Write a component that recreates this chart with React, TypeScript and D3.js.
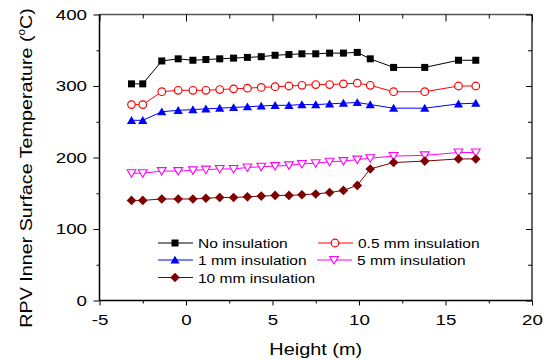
import React, { useEffect, useRef } from "react";
import * as d3 from "d3";

// Height positions along the vessel (m)
const heights = [
  -3.15, -2.5, -1.4, -0.45, 0.4, 1.15, 1.95, 2.75, 3.55, 4.35, 5.15, 5.95,
  6.7, 7.5, 8.3, 9.1, 9.9, 10.65, 12, 13.8, 15.75, 16.75,
];

const noInsulation = [
  303, 303, 335, 338, 336, 337, 338, 339, 340, 341, 343, 344, 345, 345, 346,
  346, 347, 338, 326, 326, 336, 336,
];
const ins05 = [
  274, 274, 292, 294, 294, 294, 295, 296, 297, 298, 299, 300, 301, 302, 302,
  303, 304, 301, 292, 292, 300, 300,
];
const ins1 = [
  252, 252, 264, 266, 267, 268, 269, 270, 271, 272, 273, 273, 274, 274, 275,
  276, 277, 274, 269, 269, 275, 276,
];
const ins5 = [
  178, 178, 181, 181, 182, 183, 184, 184, 186, 187, 188, 189, 191, 192, 194,
  195, 197, 199, 202, 203, 207, 207,
];
const ins10 = [
  140, 140, 142, 142, 142, 143, 144, 144, 145, 146, 147, 147, 148, 149, 151,
  154, 161, 184, 193, 195, 198, 198,
];

const xMajor = [-5, 0, 5, 10, 15, 20];
const xMinor = [-2.5, 2.5, 7.5, 12.5, 17.5];
const yMajor = [0, 100, 200, 300, 400];
const yMinor = [50, 150, 250, 350];

type Series = {
  name: string;
  values: number[];
  color: string;
  marker: "square" | "circle" | "triUp" | "triDown" | "diamond";
};

const series: Series[] = [
  { name: "No insulation", values: noInsulation, color: "#000000", marker: "square" },
  { name: "0.5 mm insulation", values: ins05, color: "#ff0000", marker: "circle" },
  { name: "1 mm insulation", values: ins1, color: "#0000ff", marker: "triUp" },
  { name: "5 mm insulation", values: ins5, color: "#ff00ff", marker: "triDown" },
  { name: "10 mm insulation", values: ins10, color: "#800000", marker: "diamond" },
];

const FONT = "'Liberation Sans', Arial, sans-serif";

const drawMarker = (g: any, s: Series, cx: number, cy: number) => {
  if (s.marker === "square") {
    g.append("rect")
      .attr("x", cx - 3.5)
      .attr("y", cy - 3.5)
      .attr("width", 7)
      .attr("height", 7)
      .attr("fill", s.color);
  } else if (s.marker === "circle") {
    g.append("circle")
      .attr("cx", cx)
      .attr("cy", cy)
      .attr("r", 3.8)
      .attr("fill", "#fff")
      .attr("stroke", s.color)
      .attr("stroke-width", 1.2);
  } else if (s.marker === "triUp") {
    g.append("path")
      .attr("d", `M${cx},${cy - 4.3}L${cx + 4.6},${cy + 3.6}L${cx - 4.6},${cy + 3.6}Z`)
      .attr("fill", s.color);
  } else if (s.marker === "triDown") {
    g.append("path")
      .attr("d", `M${cx},${cy + 4}L${cx + 4.4},${cy - 3.5}L${cx - 4.4},${cy - 3.5}Z`)
      .attr("fill", "#fff")
      .attr("stroke", s.color)
      .attr("stroke-width", 1.1);
  } else {
    g.append("path")
      .attr("d", `M${cx},${cy - 4.8}L${cx + 4.8},${cy}L${cx},${cy + 4.8}L${cx - 4.8},${cy}Z`)
      .attr("fill", s.color);
  }
};

const App = () => {
  const svgRef = useRef<SVGSVGElement>(null);

  useEffect(() => {
    const width = 549;
    const height = 360;
    const root = d3.select(svgRef.current);
    root.selectAll("*").remove();
    root.attr("width", width).attr("height", height);

    const left = 99.5;
    const right = 532;
    const top = 14.5;
    const bottom = 300.5;

    const x = d3.scaleLinear().domain([-5, 20]).range([left, right]);
    const y = d3.scaleLinear().domain([0, 400]).range([bottom, top]);

    const svg = root.append("g");

    // --- Frame (top / right mirror axes) ---
    svg
      .append("line")
      .attr("x1", left)
      .attr("x2", right)
      .attr("y1", top)
      .attr("y2", top)
      .attr("stroke", "#555")
      .attr("stroke-width", 1.6);
    svg
      .append("line")
      .attr("x1", right)
      .attr("x2", right)
      .attr("y1", top)
      .attr("y2", bottom)
      .attr("stroke", "#555")
      .attr("stroke-width", 1.8);

    const styleAxis = (g: any) => {
      g.select(".domain").remove();
      g.selectAll("line").attr("stroke", "#000").attr("stroke-width", 1);
    };

    // top ticks (inward)
    svg
      .append("g")
      .attr("transform", `translate(0,${top})`)
      .call(d3.axisTop(x).tickValues(xMajor).tickSize(-7).tickFormat(() => ""))
      .call(styleAxis);
    svg
      .append("g")
      .attr("transform", `translate(0,${top})`)
      .call(d3.axisTop(x).tickValues(xMinor).tickSize(-4).tickFormat(() => ""))
      .call(styleAxis);

    // right ticks (inward)
    svg
      .append("g")
      .attr("transform", `translate(${right},0)`)
      .call(d3.axisRight(y).tickValues(yMajor).tickSize(-6).tickFormat(() => ""))
      .call(styleAxis);
    svg
      .append("g")
      .attr("transform", `translate(${right},0)`)
      .call(d3.axisRight(y).tickValues(yMinor).tickSize(-4).tickFormat(() => ""))
      .call(styleAxis);

    // bottom axis (plain hyphen for negatives, as in the original)
    const xAxis = svg
      .append("g")
      .attr("transform", `translate(0,${bottom})`)
      .call(d3.axisBottom(x).tickValues(xMajor).tickSize(5).tickPadding(9).tickFormat((d) => String(d)))
      .call(styleAxis);
    xAxis
      .selectAll("text")
      .attr("fill", "#000")
      .style("font-family", FONT)
      .style("font-size", "15px")
      .attr("transform", "scale(1.25,1)");
    svg
      .append("g")
      .attr("transform", `translate(0,${bottom})`)
      .call(d3.axisBottom(x).tickValues(xMinor).tickSize(3).tickFormat(() => ""))
      .call(styleAxis);

    // left axis
    const yAxis = svg
      .append("g")
      .attr("transform", `translate(${left},0)`)
      .call(d3.axisLeft(y).tickValues(yMajor).tickSize(6).tickPadding(4).tickFormat((d) => String(d)))
      .call(styleAxis);
    yAxis
      .selectAll("text")
      .attr("fill", "#000")
      .style("font-family", FONT)
      .style("font-size", "15px")
      .attr("transform", "scale(1.25,1)");
    svg
      .append("g")
      .attr("transform", `translate(${left},0)`)
      .call(d3.axisLeft(y).tickValues(yMinor).tickSize(3).tickFormat(() => ""))
      .call(styleAxis);

    svg
      .append("line")
      .attr("x1", left)
      .attr("x2", right)
      .attr("y1", bottom)
      .attr("y2", bottom)
      .attr("stroke", "#000")
      .attr("stroke-width", 1.5);
    svg
      .append("line")
      .attr("x1", left)
      .attr("x2", left)
      .attr("y1", top)
      .attr("y2", bottom)
      .attr("stroke", "#000")
      .attr("stroke-width", 1.5);

    // --- Axis titles ---
    svg
      .append("text")
      .attr("transform", `translate(${(left + right) / 2},355) scale(1.17,1)`)
      .attr("text-anchor", "middle")
      .style("font-family", FONT)
      .style("font-size", "17px")
      .text("Height (m)");

    const yTitle = svg
      .append("text")
      .attr("transform", "translate(31.5,168) rotate(-90) scale(1.16,1)")
      .attr("text-anchor", "middle")
      .style("font-family", FONT)
      .style("font-size", "17px");
    yTitle.append("tspan").text("RPV Inner Surface Temperature (");
    yTitle.append("tspan").attr("dy", -7).style("font-size", "10px").text("o");
    yTitle.append("tspan").attr("dy", 7).text("C)");

    // --- Series ---
    const line = d3
      .line<number>()
      .x((_, i) => x(heights[i]))
      .y((d) => y(d));

    series.forEach((s) => {
      svg
        .append("path")
        .datum(s.values)
        .attr("d", line)
        .attr("fill", "none")
        .attr("stroke", s.color)
        .attr("stroke-width", 1);
      const g = svg.append("g");
      s.values.forEach((v, i) => drawMarker(g, s, x(heights[i]), y(v)));
    });

    // --- Legend ---
    const legendPos = [
      { lx: 158, ly: 243 },
      { lx: 318, ly: 243 },
      { lx: 158, ly: 260 },
      { lx: 317, ly: 260 },
      { lx: 158, ly: 277.5 },
    ];
    series.forEach((s, i) => {
      const { lx, ly } = legendPos[i];
      const g = svg.append("g");
      g.append("line")
        .attr("x1", lx)
        .attr("x2", lx + 35)
        .attr("y1", ly)
        .attr("y2", ly)
        .attr("stroke", s.color)
        .attr("stroke-width", 1);
      drawMarker(g, s, lx + 17, ly);
      g.append("text")
        .attr("transform", `translate(${lx + 40},${ly + 5}) scale(1.15,1)`)
        .style("font-family", FONT)
        .style("font-size", "13.5px")
        .text(s.name);
    });
  }, []);

  return (
    <svg
      ref={svgRef}
      style={{ position: "absolute", left: 0, top: 0, background: "#fff" }}
    ></svg>
  );
};

export default App;
